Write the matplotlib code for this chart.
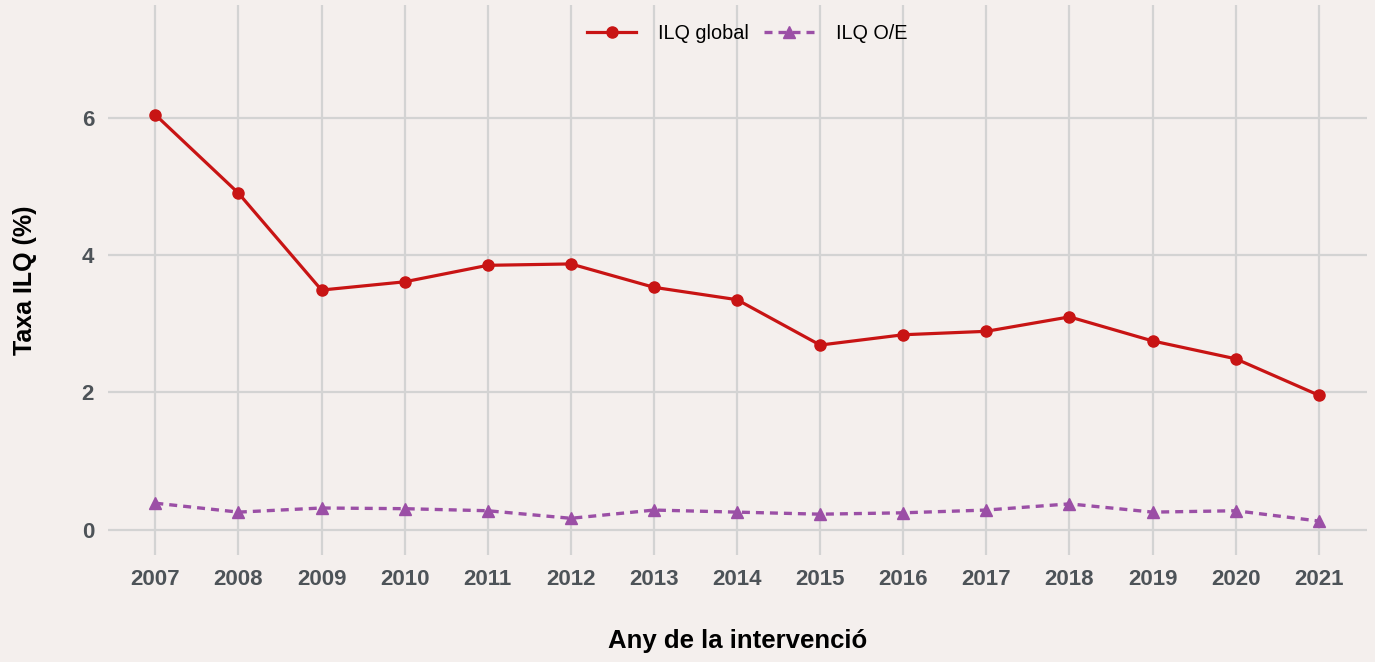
import matplotlib.pyplot as plt

years = [2007, 2008, 2009, 2010, 2011, 2012, 2013, 2014, 2015, 2016, 2017, 2018, 2019, 2020, 2021]
ilq_global = [6.04, 4.90, 3.49, 3.61, 3.85, 3.87, 3.53, 3.35, 2.69, 2.84, 2.89, 3.10, 2.75, 2.49, 1.96]
ilq_oe = [0.39, 0.26, 0.32, 0.31, 0.28, 0.17, 0.29, 0.26, 0.23, 0.25, 0.29, 0.38, 0.26, 0.28, 0.13]
y_ticks = [0, 2, 4, 6]

plt.rcParams['font.family'] = ['Liberation Sans', 'DejaVu Sans']
bg = '#F4EFED'
red = '#C81414'
purple = '#9B4FA6'
grid_col = '#D3D3D3'
tick_col = '#4D5358'

fig = plt.figure(figsize=(13.75, 6.62), dpi=100, facecolor=bg)
ax = fig.add_axes([0.0785, 0.1616, 0.9157, 0.8308], facecolor=bg)

ax.plot(years, ilq_global, color=red, lw=2.3, marker='o', ms=8,
        label='ILQ global', zorder=3)
ax.plot(years, ilq_oe, color=purple, lw=2.4, ls=(0, (2.4, 1.8)), marker='^', ms=9,
        label='ILQ O/E', zorder=3)

ax.set_xlim(2006.43, 2021.58)
ax.set_ylim(-0.364, 7.636)
ax.set_xticks(years)
ax.set_xticklabels([str(y) for y in years])
ax.set_yticks(y_ticks)

ax.grid(True, color=grid_col, lw=1.6, zorder=0)
ax.set_axisbelow(True)
for s in ax.spines.values():
    s.set_visible(False)
ax.tick_params(length=0, labelsize=16, labelcolor=tick_col, pad=10)
for lab in ax.get_xticklabels() + ax.get_yticklabels():
    lab.set_fontweight('bold')

ax.set_xlabel('Any de la intervenció', fontsize=18.5, fontweight='bold', labelpad=28)
ax.set_ylabel('Taxa ILQ (%)', fontsize=18, fontweight='bold', labelpad=32)

leg = ax.legend(loc='center', bbox_to_anchor=(0.5075, 0.949), ncol=2, frameon=False,
                fontsize=14.3, handlelength=2.5, columnspacing=0.75, handletextpad=1.1)

fig.savefig('out.png', dpi=100, facecolor=bg)
